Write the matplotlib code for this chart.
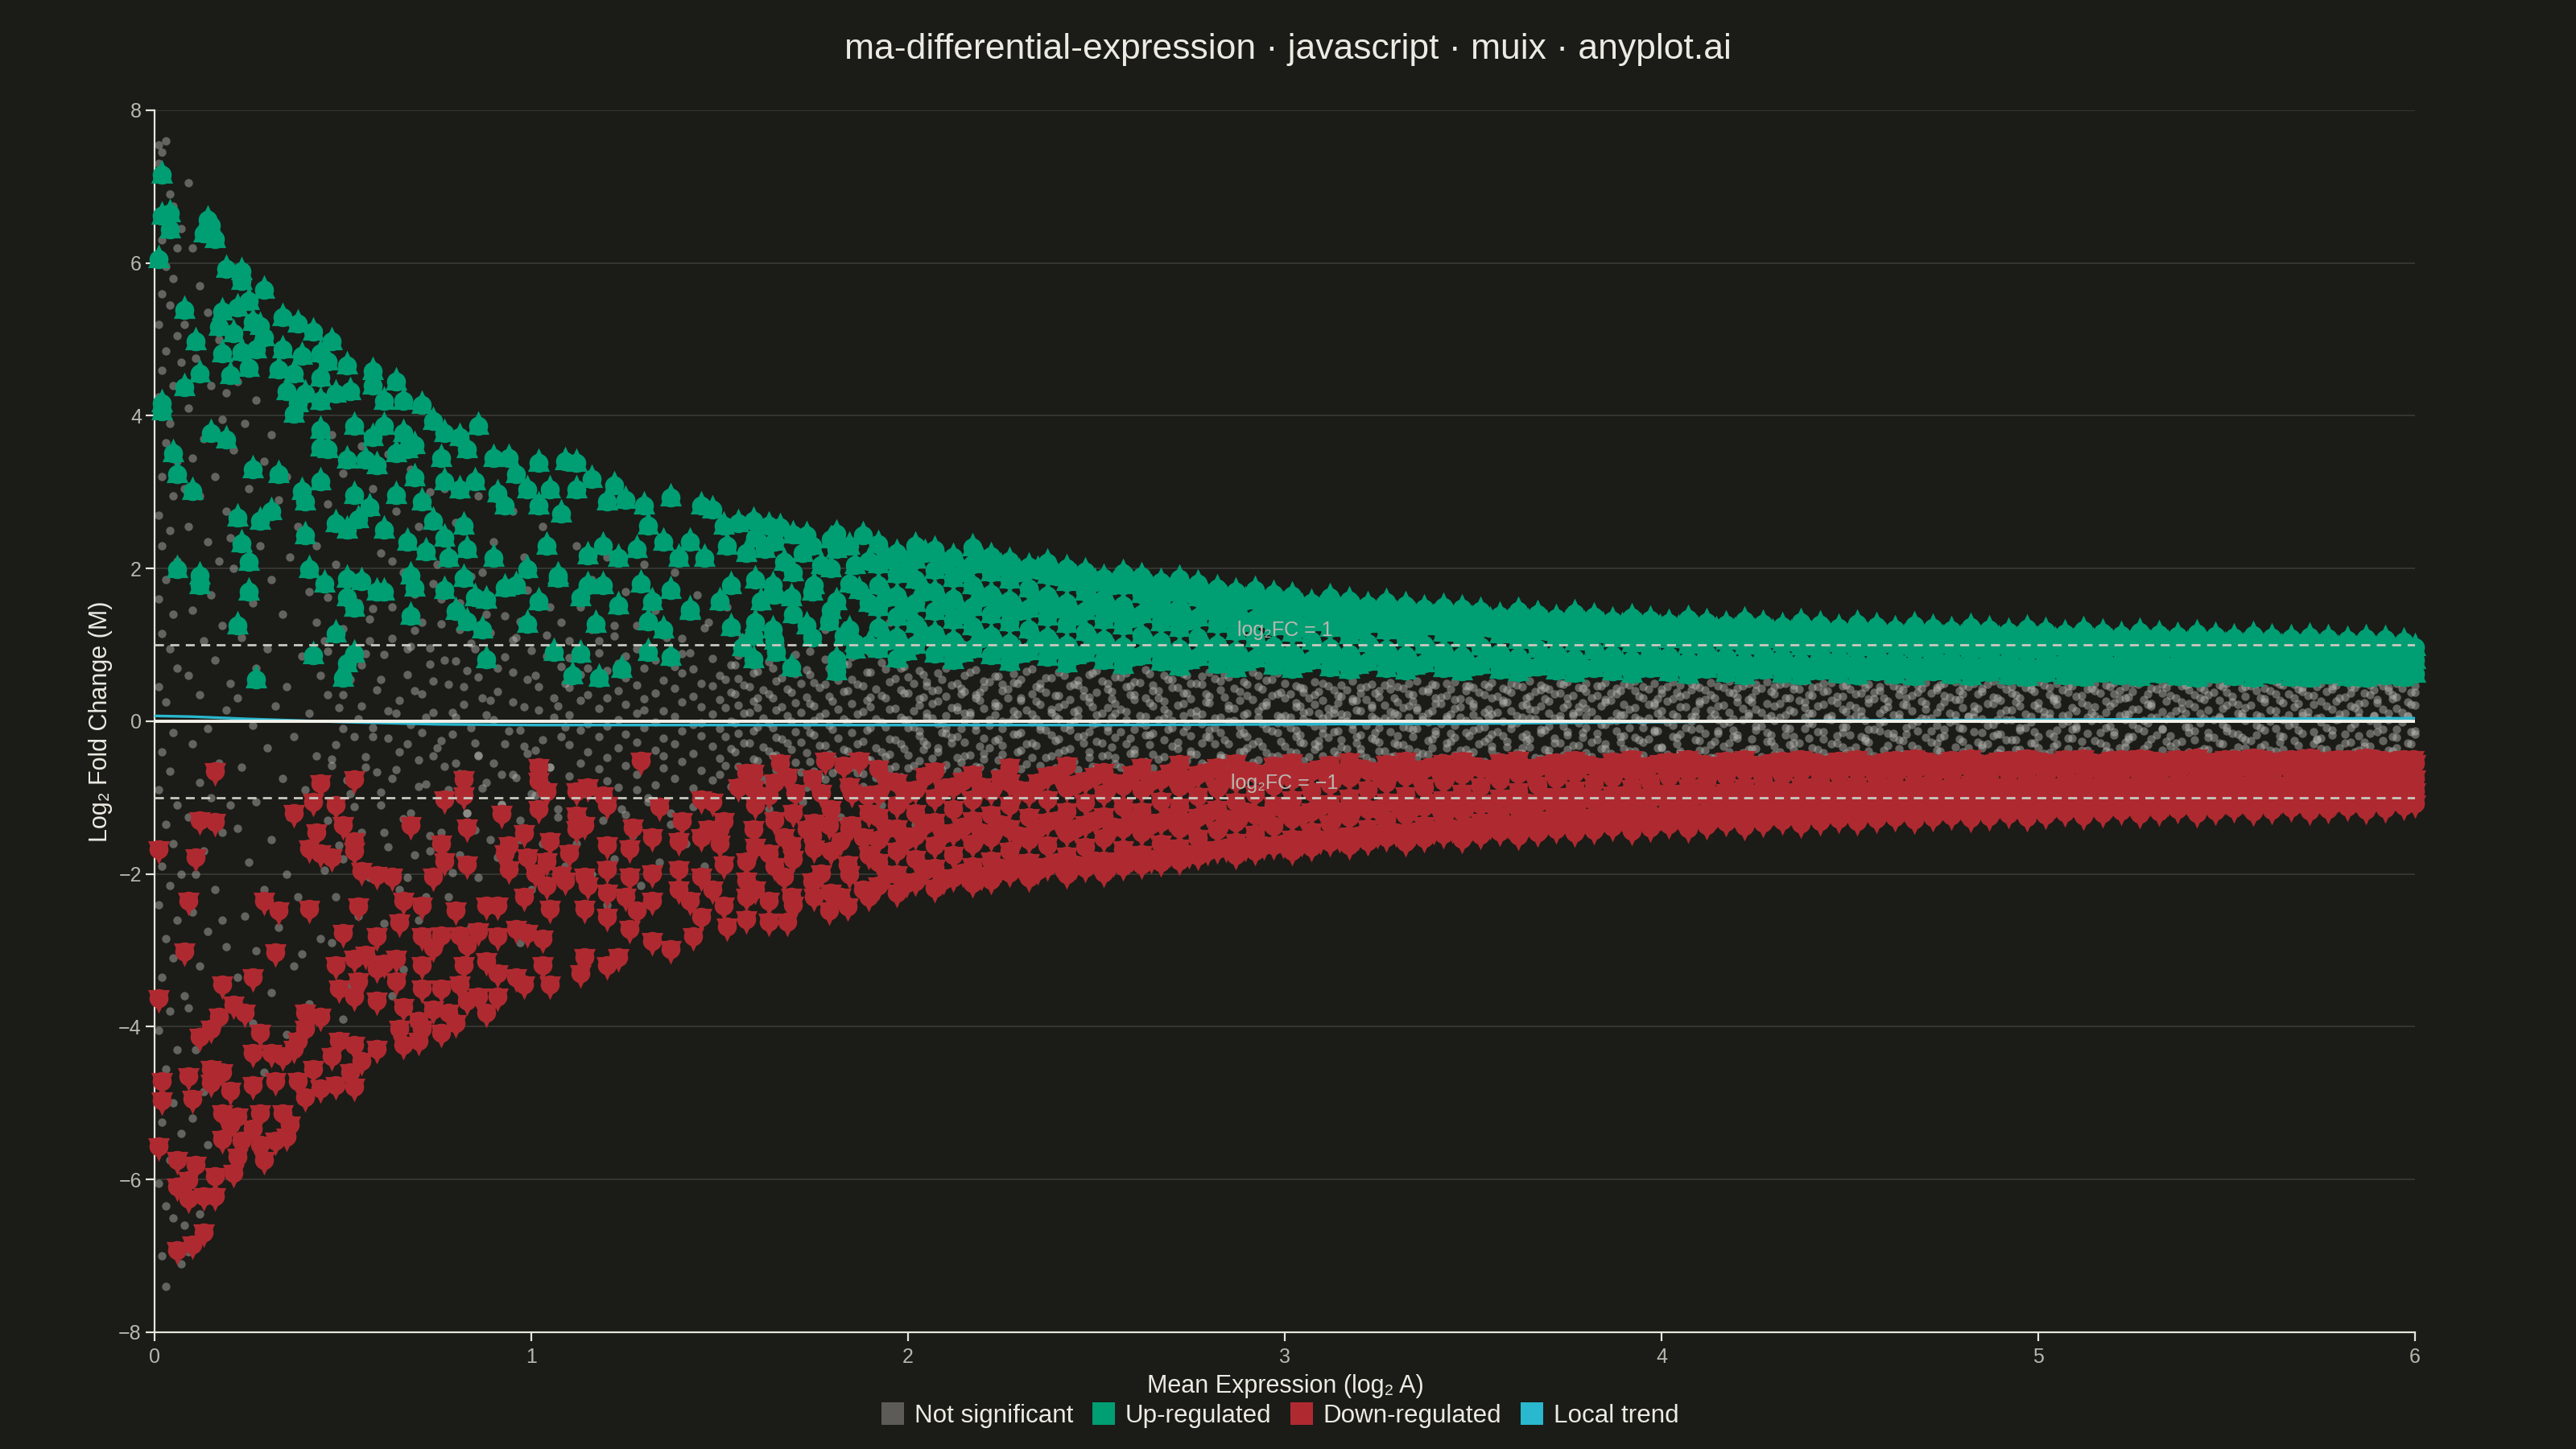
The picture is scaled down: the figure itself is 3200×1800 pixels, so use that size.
import numpy as np
import matplotlib.pyplot as plt
from matplotlib.path import Path
from matplotlib.lines import Line2D

plt.rcParams['font.family'] = ['Liberation Sans', 'DejaVu Sans']

title = "ma-differential-expression · javascript · muix · anyplot.ai"
legend_labels = ["Not significant", "Up-regulated", "Down-regulated", "Local trend"]

# up-regulated genes, sparse part (A, M pairs)
up_pts = [
    0.02,7.16, 0.02,6.62, 0.04,6.65, 0.04,6.44, 0.01,6.05, 0.14,6.57, 0.15,6.49, 0.13,6.39, 0.16,6.31, 0.19,5.92,
    0.23,5.89, 0.23,5.76, 0.08,5.39, 0.29,5.65, 0.25,5.50, 0.22,5.42, 0.18,5.36, 0.26,5.23, 0.28,5.18, 0.29,5.03,
    0.17,5.16, 0.21,5.08, 0.11,4.97, 0.18,4.82, 0.23,4.84, 0.27,4.87, 0.25,4.63, 0.20,4.53, 0.12,4.55, 0.34,5.29,
    0.38,5.21, 0.42,5.10, 0.47,4.97, 0.34,4.87, 0.39,4.79, 0.33,4.61, 0.37,4.55, 0.44,4.82, 0.46,4.71, 0.44,4.50,
    0.51,4.66, 0.08,4.37, 0.02,4.16, 0.02,4.06, 0.35,4.32, 0.40,4.29, 0.38,4.16, 0.44,4.19, 0.37,4.03, 0.48,4.29,
    0.52,4.32, 0.58,4.58, 0.64,4.45, 0.66,4.19, 0.71,4.14, 0.58,4.40, 0.61,4.19, 0.15,3.77, 0.19,3.69, 0.05,3.51,
    0.06,3.24, 0.10,3.01, 0.44,3.82, 0.44,3.58, 0.46,3.56, 0.51,3.43, 0.56,3.43, 0.59,3.35, 0.53,3.87, 0.58,3.72,
    0.61,3.87, 0.66,3.77, 0.67,3.56, 0.74,3.93, 0.77,3.77, 0.81,3.72, 0.86,3.87, 0.83,3.56, 0.76,3.45, 0.64,3.51,
    0.69,3.61, 0.26,3.30, 0.33,3.24, 0.39,3.01, 0.44,3.14, 0.40,2.88, 0.53,2.96, 0.57,2.80, 0.64,2.96, 0.69,3.19,
    0.71,2.88, 0.74,2.62, 0.77,3.14, 0.81,3.03, 0.85,3.14, 0.90,3.45, 0.94,3.45, 1.02,3.38, 1.09,3.40, 1.12,3.38,
    1.16,3.17, 1.22,3.09, 0.96,3.24, 0.99,3.03, 0.91,2.98, 0.93,2.82, 1.02,2.82, 1.05,3.03, 1.08,2.72, 1.12,3.03,
    1.20,2.88, 1.25,2.90, 1.30,2.82, 1.37,2.93, 1.45,2.82, 1.48,2.77, 1.51,2.56, 1.55,2.59, 1.59,2.62, 1.63,2.56,
    1.66,2.54, 1.73,2.43, 1.81,2.46, 1.88,2.43, 0.22,2.67, 0.28,2.62, 0.31,2.75, 0.40,2.43, 0.48,2.59, 0.51,2.51,
    0.54,2.64, 0.61,2.51, 0.67,2.35, 0.72,2.22, 0.77,2.40, 0.82,2.56, 0.83,2.25, 0.78,2.14, 0.90,2.14, 0.99,1.99,
    1.04,2.30, 1.07,1.91, 1.15,2.17, 1.19,2.30, 1.23,2.14, 1.28,2.25, 1.31,2.56, 1.35,2.35, 1.39,2.14, 1.42,2.35,
    1.46,2.14, 1.52,2.30, 1.57,2.20, 1.62,2.25, 1.67,2.09, 1.72,2.20, 1.77,2.04, 1.81,2.25, 1.86,2.04, 0.23,2.33,
    0.25,2.09, 0.06,1.99, 0.12,1.91, 0.12,1.78, 0.25,1.70, 0.41,1.99, 0.45,1.80, 0.51,1.86, 0.55,1.83, 0.59,1.70,
    0.61,1.70, 0.68,1.91, 0.69,1.75, 0.77,1.72, 0.82,1.88, 0.85,1.62, 0.88,1.59, 0.93,1.75, 0.96,1.78, 1.02,1.57,
    1.07,1.88, 1.13,1.62, 1.15,1.78, 1.19,1.78, 1.23,1.52, 1.29,1.80, 1.32,1.57, 1.37,1.72, 1.42,1.46, 1.50,1.57,
    1.53,1.78, 1.61,1.57, 1.64,1.78, 1.69,1.62, 1.75,1.78, 1.81,1.57, 1.87,1.72, 0.22,1.25, 0.51,1.62, 0.53,1.49,
    0.68,1.38, 0.80,1.44, 0.83,1.31, 0.87,1.20, 0.99,1.28, 1.17,1.28, 1.31,1.31, 1.35,1.20, 1.42,1.44, 1.53,1.23,
    1.59,1.12, 1.64,1.20, 1.73,1.25, 1.79,1.31, 1.83,1.12, 1.86,1.02, 0.48,1.15, 0.42,0.86, 0.53,0.89, 0.51,0.76,
    0.50,0.57, 0.27,0.55, 0.88,0.81, 1.06,0.91, 1.13,0.89, 1.11,0.60, 1.18,0.57, 1.24,0.68, 1.31,0.91, 1.37,0.84,
    1.56,0.97, 1.59,0.81, 1.65,0.91, 1.69,0.71, 1.81,0.81, 1.81,0.65, 1.86,0.94,
]

# up-regulated genes, dense part: (A, [M, ...])
up_band = [
    (1.92, [0.95, 1.22, 1.5, 1.78, 2.05, 2.32]), (1.97, [0.82, 1.1, 1.37, 1.64, 1.93, 2.2]),
    (2.02, [1.0, 1.28, 1.55, 1.85, 2.12, 2.3]), (2.07, [0.88, 1.15, 1.44, 1.7, 1.98, 2.24]),
    (2.12, [0.8, 1.05, 1.33, 1.6, 1.88, 2.15]), (2.17, [0.95, 1.24, 1.5, 1.78, 2.06, 2.28]),
    (2.22, [0.86, 1.12, 1.4, 1.67, 1.95, 2.16]), (2.27, [0.78, 1.02, 1.3, 1.58, 1.85, 2.1]),
    (2.32, [0.92, 1.2, 1.47, 1.74, 2.02]), (2.37, [0.84, 1.1, 1.37, 1.64, 1.92, 2.08]),
    (2.42, [0.76, 1.0, 1.28, 1.55, 1.82, 2.0]), (2.47, [0.9, 1.17, 1.44, 1.7, 1.96]),
    (2.52, [0.8, 1.06, 1.33, 1.6, 1.88]), (2.57, [0.74, 0.98, 1.25, 1.52, 1.78, 1.94]),
    (2.62, [0.86, 1.13, 1.4, 1.66, 1.9]), (2.67, [0.78, 1.04, 1.3, 1.57, 1.82]),
    (2.72, [0.72, 0.95, 1.22, 1.49, 1.75, 1.86]), (2.77, [0.84, 1.1, 1.36, 1.62, 1.8]),
    (2.82, [0.75, 1.0, 1.27, 1.53, 1.74]), (2.87, [0.7, 0.92, 1.18, 1.45, 1.7]),
    (2.92, [0.82, 1.08, 1.34, 1.6, 1.72]), (2.97, [0.73, 0.98, 1.24, 1.5, 1.66]),
    (3.02, [0.68, 0.9, 1.16, 1.42, 1.64]), (3.07, [0.8, 1.05, 1.3, 1.55]),
    (3.12, [0.71, 0.96, 1.22, 1.48, 1.62]), (3.17, [0.67, 0.88, 1.13, 1.39, 1.58]),
    (3.22, [0.78, 1.02, 1.27, 1.52]), (3.27, [0.7, 0.94, 1.19, 1.44, 1.56]),
    (3.32, [0.66, 0.86, 1.1, 1.35, 1.52]), (3.37, [0.76, 1.0, 1.24, 1.48]),
    (3.42, [0.69, 0.92, 1.16, 1.4, 1.5]), (3.47, [0.65, 0.85, 1.08, 1.32, 1.47]),
    (3.52, [0.74, 0.98, 1.22, 1.44]), (3.57, [0.67, 0.9, 1.14, 1.38]),
    (3.62, [0.64, 0.84, 1.06, 1.3, 1.44]), (3.67, [0.72, 0.95, 1.19, 1.4]),
    (3.72, [0.66, 0.88, 1.11, 1.35]), (3.77, [0.63, 0.82, 1.04, 1.27, 1.41]),
    (3.82, [0.7, 0.93, 1.16, 1.37]), (3.87, [0.65, 0.86, 1.09, 1.32]),
    (3.92, [0.62, 0.8, 1.02, 1.25, 1.36]), (3.97, [0.69, 0.91, 1.13, 1.33]),
    (4.02, [0.64, 0.85, 1.07, 1.29]), (4.07, [0.61, 0.79, 1.0, 1.22, 1.34]),
    (4.12, [0.68, 0.89, 1.11, 1.3]), (4.17, [0.63, 0.84, 1.05, 1.26]),
    (4.22, [0.6, 0.78, 0.99, 1.2, 1.32]), (4.27, [0.67, 0.88, 1.09, 1.28]),
    (4.32, [0.62, 0.83, 1.03, 1.24]), (4.37, [0.6, 0.77, 0.98, 1.18, 1.3]),
    (4.42, [0.66, 0.87, 1.07, 1.26]), (4.47, [0.62, 0.82, 1.02, 1.22]),
    (4.52, [0.6, 0.77, 0.97, 1.17, 1.27]), (4.57, [0.65, 0.86, 1.06, 1.24]),
    (4.62, [0.61, 0.81, 1.01, 1.2]), (4.67, [0.59, 0.76, 0.96, 1.16, 1.25]),
    (4.72, [0.65, 0.85, 1.05, 1.22]), (4.77, [0.61, 0.8, 1.0, 1.19]),
    (4.82, [0.59, 0.76, 0.95, 1.15, 1.23]), (4.87, [0.64, 0.84, 1.04, 1.2]),
    (4.92, [0.6, 0.8, 0.99, 1.17]), (4.97, [0.58, 0.75, 0.94, 1.13, 1.21]),
    (5.02, [0.63, 0.83, 1.02, 1.18]), (5.07, [0.6, 0.79, 0.98, 1.15]),
    (5.12, [0.58, 0.75, 0.93, 1.11, 1.19]), (5.17, [0.63, 0.82, 1.01, 1.16]),
    (5.22, [0.6, 0.78, 0.97, 1.13]), (5.27, [0.58, 0.74, 0.92, 1.1, 1.17]),
    (5.32, [0.62, 0.81, 1.0, 1.14]), (5.37, [0.59, 0.77, 0.96, 1.12]),
    (5.42, [0.57, 0.73, 0.91, 1.08, 1.15]), (5.47, [0.62, 0.8, 0.98, 1.12]),
    (5.52, [0.59, 0.77, 0.95, 1.1]), (5.57, [0.57, 0.73, 0.9, 1.06, 1.13]),
    (5.62, [0.61, 0.79, 0.97, 1.1]), (5.67, [0.58, 0.76, 0.93, 1.08]),
    (5.72, [0.57, 0.72, 0.89, 1.05, 1.11]), (5.77, [0.61, 0.79, 0.96, 1.09]),
    (5.82, [0.58, 0.75, 0.92, 1.06]), (5.87, [0.57, 0.72, 0.88, 1.03, 1.09]),
    (5.92, [0.6, 0.78, 0.95, 1.07]), (5.97, [0.58, 0.74, 0.9, 1.04]),
    (6.00, [0.62, 0.8, 0.97]),
]

# second, staggered layer of the up-regulated band
up_band2 = [
    (1.595, [1.3, 1.85, 2.4]), (1.645, [1.05, 1.65, 2.35]), (1.695, [1.4, 1.95, 2.45]), (1.745, [1.1, 1.7, 2.3]),
    (1.795, [1.45, 2.0, 2.38]), (1.845, [1.2, 1.8, 2.3]), (1.895, [1.0, 1.55, 2.1]),
    (1.945, [1.05, 1.62, 2.12]), (1.995, [0.92, 1.45, 2.0]), (2.045, [1.12, 1.7, 2.2]), (2.095, [0.98, 1.52, 2.05]),
    (2.145, [0.9, 1.4, 1.95]), (2.195, [1.08, 1.62, 2.12]), (2.245, [0.95, 1.5, 2.02]), (2.295, [0.88, 1.44, 1.95]),
    (2.345, [1.02, 1.55, 1.98]), (2.395, [0.94, 1.48, 1.9]), (2.445, [0.86, 1.38, 1.88]), (2.495, [1.0, 1.52, 1.82]),
    (2.545, [0.9, 1.42, 1.78]), (2.595, [0.84, 1.35, 1.8]), (2.645, [0.96, 1.48, 1.74]), (2.695, [0.85, 1.38, 1.7]),
    (2.745, [0.8, 1.32, 1.68]), (2.795, [0.92, 1.45, 1.62]), (2.845, [0.83, 1.35, 1.6]), (2.895, [0.78, 1.3, 1.58]),
    (2.945, [0.9, 1.4, 1.55]), (2.995, [0.8, 1.3, 1.52]), (3.045, [0.76, 1.22, 1.5]), (3.095, [0.88, 1.35, 1.46]),
    (3.145, [0.79, 1.26, 1.45]), (3.195, [0.74, 1.2, 1.44]), (3.245, [0.86, 1.3, 1.42]), (3.295, [0.77, 1.22, 1.4]),
    (3.345, [0.73, 1.16, 1.38]), (3.395, [0.84, 1.26, 1.36]), (3.445, [0.76, 1.18, 1.35]), (3.495, [0.72, 1.12, 1.34]),
    (3.545, [0.82, 1.22, 1.32]), (3.595, [0.75, 1.15, 1.3]), (3.645, [0.71, 1.1, 1.3]), (3.695, [0.8, 1.18, 1.28]),
    (3.745, [0.74, 1.12, 1.27]), (3.795, [0.7, 1.07, 1.26]), (3.845, [0.78, 1.15, 1.25]), (3.895, [0.73, 1.1, 1.24]),
    (3.945, [0.69, 1.05, 1.23]), (3.995, [0.77, 1.12, 1.22]), (4.045, [0.72, 1.08, 1.21]), (4.095, [0.68, 1.04, 1.2]),
    (4.145, [0.75, 1.1, 1.19]), (4.195, [0.71, 1.06, 1.18]), (4.245, [0.67, 1.02, 1.17]), (4.295, [0.74, 1.08, 1.16]),
    (4.345, [0.7, 1.04, 1.15]), (4.395, [0.66, 1.0, 1.14]), (4.445, [0.73, 1.06, 1.13]), (4.495, [0.69, 1.02, 1.12]),
    (4.545, [0.66, 0.99, 1.12]), (4.595, [0.72, 1.05, 1.11]), (4.645, [0.68, 1.0, 1.1]), (4.695, [0.65, 0.97, 1.1]),
    (4.745, [0.71, 1.03, 1.09]), (4.795, [0.67, 0.99, 1.08]), (4.845, [0.64, 0.96, 1.08]), (4.895, [0.7, 1.01, 1.07]),
    (4.945, [0.66, 0.97, 1.06]), (4.995, [0.64, 0.95, 1.06]), (5.045, [0.69, 1.0, 1.05]), (5.095, [0.66, 0.96, 1.04]),
    (5.145, [0.63, 0.93, 1.04]), (5.195, [0.68, 0.98, 1.03]), (5.245, [0.65, 0.95, 1.02]), (5.295, [0.63, 0.92, 1.02]),
    (5.345, [0.68, 0.97, 1.01]), (5.395, [0.65, 0.94, 1.0]), (5.445, [0.62, 0.91, 1.0]), (5.495, [0.67, 0.95, 0.99]),
    (5.545, [0.64, 0.92, 0.98]), (5.595, [0.62, 0.9, 0.98]), (5.645, [0.66, 0.94, 0.97]), (5.695, [0.64, 0.91, 0.96]),
    (5.745, [0.61, 0.89, 0.96]), (5.795, [0.66, 0.93, 0.95]), (5.845, [0.63, 0.9, 0.94]), (5.895, [0.61, 0.88, 0.94]),
    (5.945, [0.65, 0.92, 0.93]), (5.995, [0.63, 0.89, 0.92]),
]

# down-regulated genes, sparse part (A, M pairs)
down_pts = [
    0.16,-0.65, 0.44,-0.81, 0.53,-0.76, 0.37,-1.20, 0.42,-1.05, 0.48,-1.10, 0.12,-1.30, 0.16,-1.32, 0.01,-1.68, 0.11,-1.78,
    0.43,-1.46, 0.41,-1.67, 0.44,-1.73, 0.47,-1.78, 0.50,-1.36, 0.53,-1.57, 0.53,-1.70, 0.68,-1.36, 0.76,-1.60, 0.77,-1.83,
    0.83,-1.39, 0.83,-1.88, 0.55,-1.96, 0.59,-2.01, 0.63,-2.04, 0.74,-2.04, 0.82,-0.76, 0.82,-0.97, 0.77,-1.02, 0.92,-1.21,
    1.02,-0.60, 1.02,-0.78, 1.04,-0.92, 1.02,-1.15, 1.12,-0.92, 1.15,-0.86, 1.19,-0.97, 1.20,-1.10, 1.12,-1.23, 1.14,-1.36,
    1.12,-1.41, 1.29,-0.52, 1.27,-1.39, 1.34,-1.12, 1.40,-1.31, 1.45,-1.02, 1.48,-1.05, 1.47,-1.41, 1.50,-1.41, 1.50,-1.60,
    1.57,-0.68, 1.59,-0.68, 1.66,-0.55, 1.68,-0.73, 1.55,-0.86, 1.59,-0.89, 1.63,-0.97, 1.70,-0.94, 1.77,-0.94, 1.78,-0.52,
    1.83,-0.58, 1.87,-0.52, 1.85,-0.94, 1.89,-0.97, 1.75,-1.33, 0.09,-2.35, 0.29,-2.35, 0.33,-2.48, 0.41,-2.46, 0.54,-2.43,
    0.66,-2.35, 0.65,-2.64, 0.71,-2.41, 0.80,-2.48, 0.59,-2.82, 0.50,-2.77, 0.32,-3.03, 0.08,-3.01, 0.71,-2.82, 0.76,-2.80,
    0.81,-2.80, 0.86,-2.75, 0.91,-2.82, 0.96,-2.72, 0.99,-2.77, 1.03,-2.85, 0.83,-2.93, 0.74,-2.96, 0.88,-2.41, 0.91,-2.41,
    0.98,-2.30, 1.04,-2.15, 1.09,-2.09, 1.15,-2.15, 1.20,-2.25, 1.25,-2.30, 1.05,-2.46, 1.14,-2.46, 1.20,-2.56, 1.28,-2.48,
    1.32,-2.35, 1.39,-2.20, 1.42,-2.35, 1.45,-2.56, 1.51,-2.41, 1.57,-2.30, 1.63,-2.35, 1.69,-2.30, 1.75,-2.30, 1.82,-2.30,
    1.88,-2.20, 0.93,-1.73, 0.99,-1.78, 1.04,-1.83, 0.94,-1.94, 1.01,-1.99, 1.08,-2.01, 1.14,-2.04, 1.20,-1.94, 1.26,-2.04,
    1.32,-1.99, 1.39,-1.94, 1.45,-2.04, 1.51,-1.88, 1.57,-1.83, 1.63,-1.73, 1.69,-1.62, 1.75,-1.67, 1.82,-1.57, 1.88,-1.52,
    1.84,-1.88, 1.77,-1.99, 1.67,-2.04, 1.57,-2.09, 1.48,-2.20, 1.32,-1.52, 1.39,-1.57, 1.26,-1.67, 1.20,-1.62, 1.05,-1.57,
    1.10,-1.73, 1.45,-1.52, 1.51,-1.31, 1.59,-1.41, 1.67,-1.52, 1.73,-1.41, 1.79,-1.36, 1.85,-1.36, 0.98,-1.47, 0.94,-1.62,
    1.26,-2.72, 1.32,-2.88, 1.37,-2.98, 1.43,-2.82, 1.52,-2.69, 1.57,-2.59, 1.63,-2.62, 1.68,-2.62, 1.79,-2.48, 1.84,-2.43,
    0.48,-3.19, 0.53,-3.11, 0.56,-3.06, 0.61,-3.17, 0.64,-3.11, 0.71,-3.19, 0.82,-3.19, 0.88,-3.14, 0.91,-3.30, 0.96,-3.35,
    0.98,-3.45, 1.05,-3.45, 1.13,-3.30, 1.20,-3.19, 1.23,-3.09, 1.03,-3.19, 1.14,-3.09, 0.49,-3.50, 0.53,-3.61, 0.54,-3.40,
    0.59,-3.24, 0.64,-3.40, 0.59,-3.66, 0.66,-3.74, 0.71,-3.50, 0.76,-3.50, 0.81,-3.45, 0.86,-3.61, 0.91,-3.61, 0.74,-3.77,
    0.78,-3.82, 0.83,-3.66, 0.88,-3.82, 0.70,-3.92, 0.65,-4.03, 0.71,-4.03, 0.76,-4.08, 0.80,-3.95, 0.66,-4.24, 0.70,-4.18,
    0.59,-4.29, 0.55,-4.45, 0.53,-4.24, 0.49,-4.18, 0.40,-3.82, 0.44,-3.87, 0.40,-4.03, 0.38,-4.18, 0.34,-4.39, 0.37,-4.29,
    0.31,-4.34, 0.42,-4.55, 0.47,-4.39, 0.52,-4.60, 0.48,-4.76, 0.53,-4.79, 0.44,-4.81, 0.38,-4.71, 0.40,-4.92, 0.34,-5.13,
    0.36,-5.28, 0.28,-5.13, 0.26,-5.33, 0.22,-5.18, 0.18,-5.13, 0.20,-5.28, 0.18,-5.47, 0.23,-5.49, 0.28,-5.54, 0.32,-5.49,
    0.35,-5.44, 0.29,-5.75, 0.22,-5.70, 0.21,-5.91, 0.16,-5.96, 0.11,-5.81, 0.06,-5.75, 0.01,-5.57, 0.06,-6.09, 0.09,-6.01,
    0.13,-6.22, 0.16,-6.22, 0.09,-6.25, 0.13,-6.69, 0.10,-6.85, 0.06,-6.93, 0.26,-4.34, 0.26,-4.76, 0.32,-4.71, 0.12,-4.13,
    0.15,-4.03, 0.17,-3.87, 0.21,-3.71, 0.24,-3.82, 0.28,-4.08, 0.18,-3.45, 0.26,-3.35, 0.02,-4.71, 0.09,-4.65, 0.15,-4.55,
    0.18,-4.60, 0.15,-4.73, 0.20,-4.84, 0.02,-4.97, 0.10,-4.94, 0.01,-3.63,
]

# down-regulated genes, dense part: (A, [M, ...])
down_band = [
    (1.92, [-0.62, -0.95, -1.25, -1.55, -1.85, -2.15]), (1.97, [-0.8, -1.1, -1.4, -1.7, -2.0, -2.25]),
    (2.02, [-0.9, -1.2, -1.5, -1.8, -2.1]), (2.07, [-0.65, -1.0, -1.32, -1.62, -1.92, -2.18]),
    (2.12, [-0.85, -1.15, -1.45, -1.75, -2.05]), (2.17, [-0.7, -1.02, -1.3, -1.6, -1.9, -2.12]),
    (2.22, [-0.92, -1.22, -1.52, -1.82, -2.08]), (2.27, [-0.6, -0.8, -1.1, -1.4, -1.7, -1.98]),
    (2.32, [-0.95, -1.25, -1.55, -1.85, -2.05]), (2.37, [-0.72, -1.02, -1.32, -1.62, -1.9]),
    (2.42, [-0.58, -0.88, -1.18, -1.47, -1.76, -2.0]), (2.47, [-0.78, -1.06, -1.35, -1.64, -1.92]),
    (2.52, [-0.66, -0.95, -1.24, -1.53, -1.82, -1.98]), (2.57, [-0.84, -1.12, -1.4, -1.68, -1.9]),
    (2.62, [-0.6, -0.9, -1.18, -1.46, -1.74, -1.88]), (2.67, [-0.76, -1.04, -1.32, -1.6, -1.84]),
    (2.72, [-0.56, -0.85, -1.12, -1.4, -1.66, -1.82]), (2.77, [-0.7, -0.98, -1.26, -1.53, -1.76]),
    (2.82, [-0.6, -0.88, -1.15, -1.42, -1.68]), (2.87, [-0.55, -0.78, -1.05, -1.32, -1.58, -1.75]),
    (2.92, [-0.68, -0.95, -1.22, -1.48, -1.7]), (2.97, [-0.58, -0.84, -1.1, -1.37, -1.62]),
    (3.02, [-0.54, -0.76, -1.02, -1.28, -1.54, -1.7]), (3.07, [-0.65, -0.92, -1.18, -1.44, -1.64]),
    (3.12, [-0.57, -0.82, -1.08, -1.34, -1.58]), (3.17, [-0.53, -0.74, -1.0, -1.25, -1.5, -1.62]),
    (3.22, [-0.64, -0.9, -1.15, -1.4, -1.57]), (3.27, [-0.56, -0.8, -1.05, -1.3, -1.52]),
    (3.32, [-0.52, -0.72, -0.97, -1.22, -1.46, -1.58]), (3.37, [-0.62, -0.87, -1.12, -1.36, -1.53]),
    (3.42, [-0.55, -0.78, -1.02, -1.27, -1.48]), (3.47, [-0.52, -0.7, -0.94, -1.18, -1.42, -1.54]),
    (3.52, [-0.61, -0.85, -1.09, -1.32, -1.49]), (3.57, [-0.54, -0.77, -1.0, -1.24, -1.44]),
    (3.62, [-0.51, -0.69, -0.92, -1.15, -1.38, -1.5]), (3.67, [-0.6, -0.83, -1.06, -1.29, -1.45]),
    (3.72, [-0.54, -0.75, -0.98, -1.21, -1.41]), (3.77, [-0.51, -0.68, -0.9, -1.13, -1.35, -1.46]),
    (3.82, [-0.59, -0.81, -1.04, -1.26, -1.42]), (3.87, [-0.53, -0.74, -0.96, -1.18, -1.38]),
    (3.92, [-0.5, -0.67, -0.88, -1.1, -1.32, -1.43]), (3.97, [-0.58, -0.8, -1.02, -1.23, -1.39]),
    (4.02, [-0.53, -0.73, -0.94, -1.16, -1.35]), (4.07, [-0.5, -0.66, -0.87, -1.08, -1.29, -1.4]),
    (4.12, [-0.57, -0.78, -1.0, -1.2, -1.36]), (4.17, [-0.52, -0.72, -0.93, -1.14, -1.32]),
    (4.22, [-0.5, -0.65, -0.86, -1.06, -1.26, -1.37]), (4.27, [-0.57, -0.77, -0.98, -1.18, -1.33]),
    (4.32, [-0.52, -0.71, -0.92, -1.12, -1.3]), (4.37, [-0.5, -0.65, -0.85, -1.05, -1.24, -1.34]),
    (4.42, [-0.56, -0.76, -0.97, -1.16, -1.31]), (4.47, [-0.52, -0.7, -0.9, -1.1, -1.28]),
    (4.52, [-0.5, -0.64, -0.84, -1.03, -1.22, -1.31]), (4.57, [-0.56, -0.75, -0.95, -1.14, -1.28]),
    (4.62, [-0.51, -0.7, -0.89, -1.08, -1.25]), (4.67, [-0.49, -0.64, -0.83, -1.02, -1.2, -1.29]),
    (4.72, [-0.55, -0.74, -0.94, -1.12, -1.26]), (4.77, [-0.51, -0.69, -0.88, -1.06, -1.23]),
    (4.82, [-0.49, -0.63, -0.82, -1.0, -1.18, -1.27]), (4.87, [-0.55, -0.73, -0.92, -1.1, -1.24]),
    (4.92, [-0.51, -0.68, -0.87, -1.05, -1.21]), (4.97, [-0.49, -0.63, -0.81, -0.99, -1.16, -1.25]),
    (5.02, [-0.54, -0.72, -0.91, -1.08, -1.22]), (5.07, [-0.5, -0.67, -0.86, -1.03, -1.19]),
    (5.12, [-0.49, -0.62, -0.8, -0.98, -1.15, -1.23]), (5.17, [-0.54, -0.72, -0.9, -1.07, -1.2]),
    (5.22, [-0.5, -0.67, -0.85, -1.02, -1.17]), (5.27, [-0.49, -0.62, -0.79, -0.97, -1.13, -1.21]),
    (5.32, [-0.53, -0.71, -0.89, -1.06, -1.18]), (5.37, [-0.5, -0.66, -0.84, -1.01, -1.15]),
    (5.42, [-0.48, -0.61, -0.79, -0.96, -1.12, -1.2]), (5.47, [-0.53, -0.7, -0.88, -1.05, -1.17]),
    (5.52, [-0.5, -0.66, -0.83, -1.0, -1.14]), (5.57, [-0.48, -0.61, -0.78, -0.95, -1.11, -1.18]),
    (5.62, [-0.53, -0.7, -0.87, -1.04, -1.16]), (5.67, [-0.5, -0.65, -0.83, -0.99, -1.13]),
    (5.72, [-0.48, -0.61, -0.78, -0.94, -1.1, -1.17]), (5.77, [-0.52, -0.69, -0.86, -1.03, -1.15]),
    (5.82, [-0.5, -0.65, -0.82, -0.98, -1.12]), (5.87, [-0.48, -0.6, -0.77, -0.94, -1.09, -1.16]),
    (5.92, [-0.52, -0.69, -0.86, -1.02, -1.14]), (5.97, [-0.5, -0.65, -0.82, -0.98, -1.11]),
    (6.00, [-0.55, -0.75, -0.92, -1.08]),
]

# second, staggered layer of the down-regulated band
down_band2 = [
    (1.595, [-1.1, -1.65, -2.2]), (1.645, [-0.8, -1.3, -1.9]), (1.695, [-1.2, -1.8, -2.4]), (1.745, [-0.75, -1.5, -2.1]),
    (1.795, [-1.15, -1.7, -2.25]), (1.845, [-0.85, -1.4, -2.0]), (1.895, [-1.2, -1.75, -2.3]),
    (1.945, [-0.78, -1.4, -2.0]), (1.995, [-0.95, -1.55, -2.12]), (2.045, [-0.72, -1.35, -1.95]), (2.095, [-0.88, -1.48, -2.08]),
    (2.145, [-0.78, -1.38, -1.98]), (2.195, [-0.85, -1.45, -2.02]), (2.245, [-0.75, -1.35, -1.92]), (2.295, [-0.9, -1.5, -1.88]),
    (2.345, [-0.8, -1.4, -1.95]), (2.395, [-0.7, -1.3, -1.85]), (2.445, [-0.82, -1.4, -1.88]), (2.495, [-0.72, -1.3, -1.82]),
    (2.545, [-0.8, -1.38, -1.85]), (2.595, [-0.7, -1.28, -1.78]), (2.645, [-0.78, -1.35, -1.8]), (2.695, [-0.68, -1.25, -1.72]),
    (2.745, [-0.76, -1.32, -1.74]), (2.795, [-0.66, -1.2, -1.7]), (2.845, [-0.74, -1.28, -1.66]), (2.895, [-0.64, -1.18, -1.64]),
    (2.945, [-0.72, -1.25, -1.62]), (2.995, [-0.63, -1.15, -1.6]), (3.045, [-0.7, -1.22, -1.58]), (3.095, [-0.62, -1.12, -1.55]),
    (3.145, [-0.68, -1.18, -1.53]), (3.195, [-0.61, -1.1, -1.5]), (3.245, [-0.67, -1.15, -1.48]), (3.295, [-0.6, -1.08, -1.46]),
    (3.345, [-0.66, -1.12, -1.44]), (3.395, [-0.59, -1.06, -1.42]), (3.445, [-0.64, -1.1, -1.4]), (3.495, [-0.58, -1.04, -1.38]),
    (3.545, [-0.63, -1.08, -1.36]), (3.595, [-0.57, -1.02, -1.35]), (3.645, [-0.62, -1.06, -1.33]), (3.695, [-0.57, -1.0, -1.32]),
    (3.745, [-0.61, -1.04, -1.3]), (3.795, [-0.56, -0.98, -1.29]), (3.845, [-0.6, -1.02, -1.28]), (3.895, [-0.56, -0.97, -1.26]),
    (3.945, [-0.59, -1.0, -1.25]), (3.995, [-0.55, -0.95, -1.24]), (4.045, [-0.58, -0.98, -1.23]), (4.095, [-0.55, -0.94, -1.22]),
    (4.145, [-0.58, -0.97, -1.21]), (4.195, [-0.54, -0.92, -1.2]), (4.245, [-0.57, -0.95, -1.19]), (4.295, [-0.54, -0.91, -1.18]),
    (4.345, [-0.57, -0.94, -1.17]), (4.395, [-0.53, -0.9, -1.16]), (4.445, [-0.56, -0.93, -1.16]), (4.495, [-0.53, -0.89, -1.15]),
    (4.545, [-0.56, -0.92, -1.14]), (4.595, [-0.53, -0.88, -1.13]), (4.645, [-0.55, -0.91, -1.13]), (4.695, [-0.52, -0.87, -1.12]),
    (4.745, [-0.55, -0.9, -1.11]), (4.795, [-0.52, -0.86, -1.11]), (4.845, [-0.55, -0.89, -1.1]), (4.895, [-0.52, -0.86, -1.09]),
    (4.945, [-0.54, -0.88, -1.09]), (4.995, [-0.52, -0.85, -1.08]), (5.045, [-0.54, -0.87, -1.08]), (5.095, [-0.51, -0.84, -1.07]),
    (5.145, [-0.54, -0.87, -1.07]), (5.195, [-0.51, -0.84, -1.06]), (5.245, [-0.53, -0.86, -1.06]), (5.295, [-0.51, -0.83, -1.05]),
    (5.345, [-0.53, -0.85, -1.05]), (5.395, [-0.51, -0.83, -1.04]), (5.445, [-0.53, -0.85, -1.04]), (5.495, [-0.5, -0.82, -1.03]),
    (5.545, [-0.53, -0.84, -1.03]), (5.595, [-0.5, -0.82, -1.02]), (5.645, [-0.52, -0.84, -1.02]), (5.695, [-0.5, -0.81, -1.01]),
    (5.745, [-0.52, -0.83, -1.01]), (5.795, [-0.5, -0.81, -1.0]), (5.845, [-0.52, -0.83, -1.0]), (5.895, [-0.5, -0.8, -0.99]),
    (5.945, [-0.52, -0.82, -0.99]), (5.995, [-0.5, -0.8, -0.98]),
]

# not significant genes, low-expression fan (A, M pairs)
ns_pts = [
    0.01,7.55, 0.02,7.45, 0.03,7.6, 0.01,7.3, 0.04,6.9, 0.05,6.75, 0.02,6.3, 0.06,6.2, 0.03,5.95, 0.05,5.8,
    0.02,5.6, 0.04,5.45, 0.01,5.2, 0.06,5.05, 0.03,4.85, 0.02,4.6, 0.05,4.4, 0.01,4.25, 0.04,3.9, 0.03,3.65,
    0.06,3.4, 0.02,3.2, 0.05,2.95, 0.01,2.7, 0.04,2.5, 0.02,2.3, 0.06,2.1, 0.03,1.85, 0.01,1.6, 0.05,1.4,
    0.02,1.15, 0.04,0.95, 0.06,0.7, 0.01,0.45, 0.03,0.25, 0.05,-0.15, 0.02,-0.4, 0.04,-0.65, 0.01,-0.9, 0.06,-1.1,
    0.03,-1.35, 0.05,-1.6, 0.02,-1.9, 0.04,-2.15, 0.01,-2.4, 0.06,-2.6, 0.03,-2.85, 0.05,-3.1, 0.02,-3.35, 0.04,-3.8,
    0.01,-4.05, 0.06,-4.3, 0.03,-4.55, 0.05,-5.0, 0.02,-5.25, 0.04,-5.75, 0.01,-6.05, 0.03,-6.35, 0.05,-6.5, 0.02,-7.0,
    0.03,-7.4, 0.07,6.45, 0.08,5.2, 0.07,4.7, 0.08,3.05, 0.07,-2.0, 0.08,-3.6, 0.07,-5.4, 0.08,-6.6,
    0.09,7.05, 0.1,6.2, 0.12,5.7, 0.14,5.35, 0.17,5.0, 0.11,4.75, 0.15,4.4, 0.09,4.1, 0.18,3.95, 0.13,3.7,
    0.1,3.45, 0.16,3.2, 0.12,2.95, 0.19,2.75, 0.09,2.55, 0.14,2.35, 0.17,2.1, 0.11,1.9, 0.15,1.65, 0.1,1.45,
    0.18,1.25, 0.13,1.05, 0.16,0.8, 0.09,0.6, 0.12,0.35, 0.19,0.15, 0.14,-0.1, 0.1,-0.3, 0.17,-0.55, 0.12,-0.8,
    0.15,-1.0, 0.09,-1.25, 0.18,-1.45, 0.13,-1.7, 0.11,-2.0, 0.16,-2.2, 0.1,-2.5, 0.14,-2.75, 0.19,-2.95, 0.12,-3.2,
    0.17,-3.5, 0.09,-3.75, 0.15,-4.0, 0.11,-4.3, 0.13,-4.85, 0.1,-5.2, 0.14,-5.55, 0.12,-6.45, 0.16,-4.5, 0.18,-2.6,
    0.2,-1.1, 0.2,0.5, 0.2,2.4, 0.19,4.3, 0.07,-7.1, 0.09,-6.95,
    0.22,4.45, 0.27,4.2, 0.24,3.9, 0.31,3.75, 0.21,3.55, 0.29,3.4, 0.35,3.2, 0.25,3.05, 0.33,2.9, 0.23,2.6,
    0.38,2.55, 0.28,2.3, 0.36,2.15, 0.21,2.0, 0.31,1.85, 0.41,1.7, 0.26,1.55, 0.34,1.4, 0.43,1.3, 0.23,1.1,
    0.3,0.95, 0.39,0.85, 0.27,0.7, 0.44,0.6, 0.35,0.45, 0.22,0.3, 0.32,0.2, 0.41,0.1, 0.26,-0.05, 0.37,-0.2,
    0.3,-0.35, 0.43,-0.45, 0.23,-0.6, 0.34,-0.75, 0.4,-0.9, 0.27,-1.05, 0.36,-1.25, 0.22,-1.4, 0.31,-1.55, 0.42,-1.65,
    0.25,-1.85, 0.35,-2.0, 0.29,-2.2, 0.38,-2.3, 0.24,-2.55, 0.33,-2.7, 0.44,-2.85, 0.27,-3.0, 0.37,-3.2, 0.22,-3.35,
    0.31,-3.55, 0.41,-3.7, 0.26,-3.95, 0.35,-4.1, 0.29,-4.6, 0.39,-3.05, 0.43,2.3, 0.45,-1.95, 0.45,1.05,
    0.47,3.75, 0.55,3.6, 0.62,3.5, 0.5,3.25, 0.68,3.3, 0.58,3.05, 0.73,3.0, 0.46,2.85, 0.64,2.75, 0.52,2.45,
    0.7,2.55, 0.6,2.2, 0.48,2.05, 0.66,1.95, 0.74,1.8, 0.54,1.55, 0.63,1.5, 0.71,1.3, 0.49,1.2, 0.57,1.05,
    0.67,0.95, 0.73,0.75, 0.51,0.7, 0.6,0.55, 0.69,0.4, 0.46,0.35, 0.55,0.2, 0.64,0.1, 0.72,0.05, 0.5,-0.1,
    0.58,-0.2, 0.67,-0.3, 0.74,-0.45, 0.47,-0.5, 0.56,-0.6, 0.63,-0.75, 0.7,-0.85, 0.52,-0.95, 0.6,-1.1, 0.68,-1.2,
    0.46,-1.3, 0.55,-1.45, 0.73,-1.5, 0.62,-1.65, 0.5,-1.8, 0.69,-1.75, 0.57,-2.05, 0.65,-2.2, 0.48,-2.3, 0.72,-2.3,
    0.54,-2.55, 0.61,-2.65, 0.7,-2.6, 0.47,-2.9, 0.58,-3.1, 0.66,-3.25, 0.52,-3.45, 0.63,-3.6, 0.5,-3.9,
    0.77,3.05, 0.86,2.95, 0.95,2.75, 0.8,2.6, 1.03,2.55, 0.9,2.35, 0.78,2.2, 0.98,2.15, 1.07,1.95, 0.84,1.9,
    0.93,1.7, 0.76,1.6, 1.01,1.55, 0.88,1.4, 1.08,1.3, 0.81,1.2, 0.96,1.1, 0.85,0.95, 1.04,0.85, 0.77,0.8,
    0.91,0.7, 0.99,0.55, 1.09,0.5, 0.82,0.45, 0.87,0.3, 0.95,0.25, 1.02,0.15, 0.79,0.12, 1.06,0.05, 0.9,0.02,
    0.84,-0.08, 0.97,-0.12, 1.08,-0.2, 0.76,-0.25, 0.93,-0.3, 1.01,-0.38, 0.86,-0.45, 0.8,-0.55, 1.05,-0.6, 0.95,-0.7,
    0.88,-0.8, 0.78,-0.9, 1.0,-0.95, 0.92,-1.1, 1.07,-1.15, 0.83,-1.2, 0.97,-1.3, 0.76,-1.45, 0.89,-1.55, 1.03,-1.6,
    0.81,-1.75, 0.94,-1.85, 1.09,-1.9, 0.86,-2.05, 0.78,-2.3, 1.0,-2.2, 0.91,-2.45, 0.84,-2.7, 0.97,-2.9,
    1.12,2.3, 1.2,2.15, 1.3,2.05, 1.16,1.85, 1.38,1.95, 1.25,1.7, 1.44,1.65, 1.13,1.5, 1.33,1.45, 1.22,1.25,
    1.47,1.3, 1.18,1.05, 1.36,1.1, 1.28,0.95, 1.42,0.9, 1.14,-0.95, 1.31,-1.0, 1.24,-1.15, 1.45,-1.05, 1.19,-1.3,
    1.37,-1.35, 1.27,-1.5, 1.12,-1.6, 1.41,-1.6, 1.22,-1.8, 1.34,-1.85, 1.16,-2.0, 1.46,-1.9, 1.29,-2.15, 1.2,-2.4,
    1.52,1.5, 1.6,1.35, 1.7,1.45, 1.78,1.2, 1.56,1.1, 1.66,1.0, 1.85,1.05, 1.95,1.3, 2.05,1.1, 2.15,1.0,
    1.74,0.92, 1.9,0.9, 2.1,0.88, 1.55,-0.95, 1.63,-1.15, 1.72,-1.05, 1.82,-1.25, 1.93,-1.1, 2.02,-1.35, 2.12,-1.15,
    1.58,-1.4, 1.68,-1.5, 1.88,-1.45, 1.98,-0.92, 2.18,-0.9,
    0.46,0.92, 0.48,-0.31, 0.49,0.18, 0.5,1.21, 0.51,-0.77, 0.52,0.55, 0.53,-1.12, 0.54,0.03, 0.55,0.74, 0.56,-0.46,
    0.57,1.34, 0.58,-0.09, 0.59,0.41, 0.6,-0.93, 0.61,0.87, 0.62,-0.22, 0.63,1.08, 0.64,-0.63, 0.65,0.27, 0.66,-1.28,
    0.67,0.61, 0.68,-0.04, 0.69,1.19, 0.7,-0.51, 0.71,0.36, 0.72,-0.82, 0.73,0.96, 0.74,0.12, 0.75,-0.35, 0.76,1.27,
    0.77,-1.03, 0.78,0.48, 0.79,-0.17, 0.8,0.79, 0.81,-0.69, 0.82,0.22, 0.83,-1.2, 0.84,1.02, 0.85,-0.28, 0.86,0.58,
    0.87,-0.88, 0.88,0.08, 0.89,1.16, 0.9,-0.55, 0.91,0.39, 0.92,-1.09, 0.93,0.84, 0.94,-0.13, 0.95,0.64, 0.96,-0.74,
    0.97,1.31, 0.98,0.19, 0.99,-0.42, 1.0,0.93, 1.01,-0.97, 1.02,0.45, 1.03,-0.24, 1.04,1.13, 1.05,-0.6, 1.06,0.31,
    1.07,-1.25, 1.08,0.72, 1.09,-0.07, 0.47,-0.58, 0.5,0.35, 0.53,-0.2, 0.56,0.88, 0.59,-0.66, 0.62,0.14, 0.65,-0.4,
    0.68,0.98, 0.71,-0.15, 0.74,0.53, 0.77,-0.59, 0.8,0.05, 0.83,0.66, 0.86,-0.44, 0.89,0.27, 0.92,-0.7, 0.95,1.06,
    0.98,-0.33, 1.01,0.6, 1.04,-0.83, 1.07,0.2, 1.1,1.05, 1.13,-1.18, 1.16,1.2, 1.19,-1.08, 1.22,1.12, 1.25,-1.22,
    1.28,1.25, 1.31,-1.05, 1.34,1.15, 1.37,-1.2, 1.4,1.08, 1.43,-1.12, 1.46,1.22, 1.49,-1.0,
    0.46,1.62, 0.52,1.85, 0.58,1.48, 0.63,2.1, 0.69,1.66, 0.75,2.05, 0.81,1.55, 0.87,1.95, 0.93,1.38, 0.99,1.72,
    1.05,1.5, 0.49,-1.62, 0.55,-1.9, 0.61,-1.45, 0.67,-2.05, 0.73,-1.7, 0.79,-1.98, 0.85,-1.42, 0.91,-1.78, 0.97,-1.55,
    1.03,-1.85,
]

# not significant genes, dense band around M = 0: (A, [M, ...])
ns_band = [
    (1.10, [-0.72, -0.31, 0.08, 0.44, 0.83]), (1.13, [-0.55, -0.12, 0.27, 0.61, -0.88]),
    (1.15, [-0.81, -0.4, -0.03, 0.35, 0.7]), (1.18, [-0.62, -0.2, 0.17, 0.52, 0.9]),
    (1.20, [-0.47, -0.06, 0.31, 0.66, -0.78]), (1.23, [-0.86, -0.35, 0.02, 0.4, 0.76]),
    (1.25, [-0.58, -0.17, 0.22, 0.57, 0.85]), (1.28, [-0.7, -0.27, 0.11, 0.47, -0.9]),
    (1.30, [-0.5, -0.09, 0.29, 0.69, 0.15]), (1.33, [-0.83, -0.38, -0.01, 0.37, 0.8]),
    (1.35, [-0.61, -0.22, 0.14, 0.54, -0.45]), (1.38, [-0.75, -0.3, 0.06, 0.43, 0.72]),
    (1.40, [-0.53, -0.13, 0.25, 0.63, 0.88]), (1.43, [-0.88, -0.42, -0.04, 0.33, 0.68]),
    (1.45, [-0.64, -0.19, 0.19, 0.5, -0.02]), (1.48, [-0.77, -0.33, 0.09, 0.46, 0.82]),
    (1.50, [-0.49, -0.1, 0.28, 0.6, -0.7]), (1.53, [-0.85, -0.36, 0.0, 0.38, 0.74]),
    (1.55, [-0.59, -0.16, 0.21, 0.56, 0.86]), (1.58, [-0.71, -0.28, 0.12, 0.45, -0.87]),
    (1.60, [-0.52, -0.07, 0.3, 0.65, 0.18]), (1.63, [-0.8, -0.39, -0.02, 0.36, 0.78]),
    (1.65, [-0.63, -0.21, 0.15, 0.53, -0.44]), (1.68, [-0.74, -0.29, 0.07, 0.42, 0.71]),
    (1.70, [-0.54, -0.14, 0.24, 0.62, 0.87]), (1.73, [-0.87, -0.41, -0.05, 0.32, 0.67]),
    (1.75, [-0.65, -0.18, 0.2, 0.51, 0.01]), (1.78, [-0.76, -0.32, 0.1, 0.48, 0.81]),
    (1.80, [-0.48, -0.11, 0.26, 0.59, -0.68]), (1.83, [-0.84, -0.37, 0.03, 0.39, 0.75]),
    (1.85, [-0.6, -0.15, 0.23, 0.55, 0.84]), (1.88, [-0.69, -0.26, 0.13, 0.46, -0.85]),
    (1.90, [-0.51, -0.08, 0.32, 0.64, 0.19]), (1.93, [-0.79, -0.4, -0.01, 0.34, 0.77]),
    (1.95, [-0.62, -0.23, 0.16, 0.52, -0.43]), (1.98, [-0.73, -0.3, 0.05, 0.41, 0.7]),
    (2.00, [-0.61, -0.44, -0.09, 0.02, 0.37, 0.58]), (2.03, [-0.52, -0.19, -0.13, 0.21, 0.29, 0.66]),
    (2.05, [-0.68, -0.31, 0.05, 0.11, 0.46, 0.52]), (2.08, [-0.4, -0.35, -0.03, 0.26, 0.41, 0.63]),
    (2.10, [-0.57, -0.16, -0.08, 0.07, 0.33, 0.69]), (2.13, [-0.65, -0.48, -0.2, 0.15, 0.19, 0.5]),
    (2.15, [-0.45, -0.27, 0.01, 0.1, 0.39, 0.6]), (2.18, [-0.59, -0.12, -0.05, 0.3, 0.35, 0.67]),
    (2.20, [-0.5, -0.42, -0.22, 0.17, 0.44, 0.53]), (2.23, [-0.66, -0.25, 0.08, 0.2, 0.24, 0.59]),
    (2.25, [-0.43, -0.32, -0.1, 0.0, 0.4, 0.48]), (2.28, [-0.55, -0.17, 0.04, 0.14, 0.51, 0.62]),
    (2.30, [-0.62, -0.38, -0.15, 0.27, 0.31, 0.55]), (2.33, [-0.47, -0.29, -0.01, 0.09, 0.36, 0.68]),
    (2.35, [-0.58, -0.11, -0.06, 0.22, 0.43, 0.5]), (2.38, [-0.67, -0.45, -0.18, 0.12, 0.16, 0.57]),
    (2.40, [-0.41, -0.23, 0.03, 0.19, 0.34, 0.64]), (2.43, [-0.54, -0.36, -0.12, -0.04, 0.28, 0.46]),
    (2.45, [-0.63, -0.2, 0.06, 0.15, 0.47, 0.54]), (2.48, [-0.48, -0.4, -0.14, 0.25, 0.32, 0.61]),
    (2.50, [-0.6, -0.26, -0.02, 0.08, 0.38, 0.66]), (2.53, [-0.44, -0.13, -0.07, 0.18, 0.42, 0.49]),
    (2.55, [-0.56, -0.47, -0.21, 0.11, 0.23, 0.58]), (2.58, [-0.64, -0.3, 0.02, 0.13, 0.45, 0.63]),
    (2.60, [-0.42, -0.37, -0.11, 0.28, 0.35, 0.52]), (2.63, [-0.53, -0.18, -0.05, 0.06, 0.3, 0.67]),
    (2.65, [-0.61, -0.43, -0.16, 0.2, 0.4, 0.47]), (2.68, [-0.46, -0.24, 0.04, 0.16, 0.26, 0.6]),
    (2.70, [-0.58, -0.33, -0.09, 0.01, 0.44, 0.55]), (2.73, [-0.65, -0.14, 0.07, 0.23, 0.37, 0.62]),
    (2.75, [-0.43, -0.39, -0.19, 0.12, 0.29, 0.5]), (2.78, [-0.55, -0.28, -0.03, 0.09, 0.48, 0.59]),
    (2.80, [-0.62, -0.21, -0.12, 0.24, 0.33, 0.64]), (2.83, [-0.47, -0.44, -0.15, 0.05, 0.41, 0.53]),
    (2.85, [-0.57, -0.3, 0.0, 0.17, 0.21, 0.58]), (2.88, [-0.4, -0.17, -0.07, 0.27, 0.39, 0.65]),
    (2.90, [-0.63, -0.35, -0.2, 0.1, 0.34, 0.48]), (2.93, [-0.51, -0.26, 0.05, 0.14, 0.45, 0.6]),
    (2.95, [-0.59, -0.41, -0.1, 0.21, 0.25, 0.54]), (2.98, [-0.45, -0.15, -0.02, 0.07, 0.36, 0.63]),
    (3.00, [-0.49, -0.33, -0.02, 0.07, 0.31, 0.5]), (3.03, [-0.41, -0.2, -0.12, 0.19, 0.24, 0.46]),
    (3.05, [-0.52, -0.28, 0.03, 0.12, 0.38, 0.43]), (3.08, [-0.37, -0.3, -0.06, 0.22, 0.35, 0.52]),
    (3.10, [-0.45, -0.16, -0.09, 0.04, 0.27, 0.49]), (3.13, [-0.5, -0.39, -0.14, 0.1, 0.16, 0.41]),
    (3.15, [-0.34, -0.24, 0.01, 0.09, 0.33, 0.47]), (3.18, [-0.47, -0.11, -0.04, 0.26, 0.29, 0.53]),
    (3.20, [-0.42, -0.36, -0.18, 0.14, 0.37, 0.44]), (3.23, [-0.53, -0.22, 0.06, 0.18, 0.21, 0.48]),
    (3.25, [-0.39, -0.27, -0.08, 0.0, 0.32, 0.4]), (3.28, [-0.46, -0.14, 0.02, 0.13, 0.42, 0.51]),
    (3.30, [-0.51, -0.31, -0.19, 0.08, 0.25, 0.45]), (3.33, [-0.36, -0.08, 0.05, 0.2, 0.36, 0.49]),
    (3.35, [-0.48, -0.4, -0.1, 0.15, 0.18, 0.53]), (3.38, [-0.43, -0.25, -0.01, 0.11, 0.39, 0.42]),
    (3.40, [-0.52, -0.17, -0.13, 0.23, 0.3, 0.47]), (3.43, [-0.35, -0.29, 0.03, 0.06, 0.34, 0.5]),
    (3.45, [-0.44, -0.21, -0.05, 0.17, 0.28, 0.52]), (3.48, [-0.5, -0.37, -0.15, 0.01, 0.4, 0.46]),
    (3.50, [-0.4, -0.12, 0.08, 0.19, 0.23, 0.44]), (3.53, [-0.53, -0.26, -0.07, 0.12, 0.35, 0.48]),
    (3.55, [-0.38, -0.33, -0.17, 0.09, 0.31, 0.51]), (3.58, [-0.47, -0.19, 0.0, 0.24, 0.27, 0.43]),
    (3.60, [-0.51, -0.1, -0.03, 0.14, 0.38, 0.5]), (3.63, [-0.42, -0.35, -0.2, 0.05, 0.21, 0.45]),
    (3.65, [-0.34, -0.23, 0.04, 0.16, 0.33, 0.53]), (3.68, [-0.49, -0.15, -0.11, 0.2, 0.41, 0.47]),
    (3.70, [-0.45, -0.38, -0.06, 0.1, 0.26, 0.42]), (3.73, [-0.52, -0.28, 0.02, 0.07, 0.37, 0.49]),
    (3.75, [-0.37, -0.18, -0.14, 0.22, 0.3, 0.52]), (3.78, [-0.48, -0.32, -0.02, 0.13, 0.19, 0.44]),
    (3.80, [-0.41, -0.09, 0.06, 0.17, 0.39, 0.5]), (3.83, [-0.53, -0.24, -0.16, 0.03, 0.34, 0.46]),
    (3.85, [-0.36, -0.3, -0.04, 0.25, 0.28, 0.51]), (3.88, [-0.46, -0.13, 0.01, 0.11, 0.36, 0.43]),
    (3.90, [-0.5, -0.36, -0.19, 0.08, 0.22, 0.48]), (3.93, [-0.39, -0.21, 0.05, 0.18, 0.4, 0.53]),
    (3.95, [-0.44, -0.27, -0.08, 0.0, 0.31, 0.45]), (3.98, [-0.51, -0.14, -0.12, 0.21, 0.24, 0.49]),
    (4.00, [-0.35, -0.34, 0.03, 0.14, 0.37, 0.42]), (4.03, [-0.48, -0.2, -0.05, 0.09, 0.29, 0.52]),
    (4.05, [-0.42, -0.39, -0.17, 0.19, 0.33, 0.47]), (4.08, [-0.53, -0.11, 0.0, 0.06, 0.41, 0.5]),
    (4.10, [-0.38, -0.25, -0.1, 0.23, 0.26, 0.44]), (4.13, [-0.47, -0.31, 0.04, 0.15, 0.35, 0.51]),
    (4.15, [-0.5, -0.16, -0.13, 0.02, 0.2, 0.46]), (4.18, [-0.4, -0.29, -0.01, 0.12, 0.38, 0.53]),
    (4.20, [-0.45, -0.22, -0.18, 0.25, 0.32, 0.43]), (4.23, [-0.52, -0.37, 0.07, 0.1, 0.28, 0.49]),
    (4.25, [-0.36, -0.12, -0.06, 0.16, 0.4, 0.48]), (4.28, [-0.49, -0.26, -0.15, 0.04, 0.23, 0.52]),
    (4.30, [-0.43, -0.33, 0.01, 0.2, 0.36, 0.45]), (4.33, [-0.51, -0.18, -0.09, 0.08, 0.3, 0.5]),
    (4.35, [-0.37, -0.28, -0.2, 0.13, 0.42, 0.47]), (4.38, [-0.46, -0.1, 0.05, 0.18, 0.25, 0.53]),
    (4.40, [-0.53, -0.35, -0.03, 0.11, 0.34, 0.44]), (4.43, [-0.41, -0.23, -0.14, 0.22, 0.39, 0.49]),
    (4.45, [-0.48, -0.3, 0.02, 0.07, 0.27, 0.51]), (4.48, [-0.34, -0.15, -0.07, 0.16, 0.33, 0.46]),
    (4.50, [-0.5, -0.38, -0.18, 0.03, 0.21, 0.42]), (4.53, [-0.44, -0.2, 0.06, 0.14, 0.37, 0.52]),
    (4.55, [-0.39, -0.27, -0.11, 0.24, 0.29, 0.48]), (4.58, [-0.52, -0.13, -0.02, 0.1, 0.4, 0.45]),
    (4.60, [-0.47, -0.32, -0.16, 0.19, 0.26, 0.53]), (4.63, [-0.36, -0.24, 0.04, 0.09, 0.35, 0.43]),
    (4.65, [-0.49, -0.17, -0.08, 0.21, 0.31, 0.5]), (4.68, [-0.42, -0.36, -0.13, 0.0, 0.38, 0.47]),
    (4.70, [-0.53, -0.21, 0.03, 0.16, 0.23, 0.51]), (4.73, [-0.38, -0.29, -0.05, 0.12, 0.41, 0.44]),
    (4.75, [-0.45, -0.11, -0.19, 0.25, 0.34, 0.49]), (4.78, [-0.51, -0.34, 0.01, 0.08, 0.28, 0.52]),
    (4.80, [-0.4, -0.26, -0.1, 0.18, 0.36, 0.46]), (4.83, [-0.47, -0.14, 0.05, 0.13, 0.2, 0.5]),
    (4.85, [-0.35, -0.31, -0.15, 0.03, 0.39, 0.43]), (4.88, [-0.5, -0.19, -0.04, 0.23, 0.32, 0.53]),
    (4.90, [-0.43, -0.37, -0.17, 0.1, 0.27, 0.48]), (4.93, [-0.52, -0.24, 0.02, 0.15, 0.37, 0.45]),
    (4.95, [-0.37, -0.12, -0.09, 0.2, 0.3, 0.51]), (4.98, [-0.46, -0.28, -0.01, 0.06, 0.42, 0.47]),
    (5.00, [-0.49, -0.35, -0.2, 0.17, 0.24, 0.52]), (5.03, [-0.41, -0.16, 0.04, 0.11, 0.35, 0.44]),
    (5.05, [-0.53, -0.3, -0.12, 0.22, 0.29, 0.49]), (5.08, [-0.36, -0.22, 0.0, 0.08, 0.38, 0.46]),
    (5.10, [-0.48, -0.1, -0.06, 0.14, 0.33, 0.53]), (5.13, [-0.44, -0.38, -0.16, 0.05, 0.21, 0.42]),
    (5.15, [-0.51, -0.25, 0.07, 0.19, 0.4, 0.5]), (5.18, [-0.39, -0.32, -0.08, 0.12, 0.26, 0.47]),
    (5.20, [-0.47, -0.14, -0.18, 0.24, 0.36, 0.51]), (5.23, [-0.34, -0.27, 0.02, 0.09, 0.31, 0.45]),
    (5.25, [-0.5, -0.2, -0.04, 0.16, 0.39, 0.49]), (5.28, [-0.42, -0.36, -0.13, 0.01, 0.28, 0.53]),
    (5.30, [-0.52, -0.23, 0.05, 0.2, 0.23, 0.43]), (5.33, [-0.38, -0.11, -0.1, 0.13, 0.37, 0.48]),
    (5.35, [-0.46, -0.33, -0.19, 0.07, 0.34, 0.52]), (5.38, [-0.49, -0.26, 0.03, 0.17, 0.25, 0.46]),
    (5.40, [-0.4, -0.15, -0.07, 0.23, 0.41, 0.5]), (5.43, [-0.53, -0.39, -0.02, 0.1, 0.3, 0.44]),
    (5.45, [-0.37, -0.21, -0.15, 0.15, 0.35, 0.51]), (5.48, [-0.45, -0.29, 0.06, 0.04, 0.27, 0.47]),
    (5.50, [-0.51, -0.13, -0.09, 0.21, 0.38, 0.49]), (5.53, [-0.43, -0.34, -0.17, 0.11, 0.22, 0.53]),
    (5.55, [-0.35, -0.24, 0.01, 0.18, 0.33, 0.45]), (5.58, [-0.48, -0.18, -0.05, 0.08, 0.4, 0.5]),
    (5.60, [-0.52, -0.31, -0.12, 0.25, 0.29, 0.43]), (5.63, [-0.39, -0.1, 0.04, 0.14, 0.36, 0.52]),
    (5.65, [-0.46, -0.37, -0.2, 0.02, 0.24, 0.47]), (5.68, [-0.5, -0.25, -0.03, 0.19, 0.31, 0.48]),
    (5.70, [-0.41, -0.16, 0.07, 0.12, 0.39, 0.44]), (5.73, [-0.53, -0.3, -0.14, 0.22, 0.34, 0.51]),
    (5.75, [-0.36, -0.22, -0.01, 0.05, 0.26, 0.49]), (5.78, [-0.47, -0.12, -0.18, 0.16, 0.42, 0.46]),
    (5.80, [-0.44, -0.35, 0.03, 0.09, 0.3, 0.53]), (5.83, [-0.51, -0.27, -0.08, 0.2, 0.37, 0.45]),
    (5.85, [-0.38, -0.19, 0.05, 0.13, 0.23, 0.5]), (5.88, [-0.49, -0.33, -0.16, 0.01, 0.35, 0.47]),
    (5.90, [-0.42, -0.14, -0.04, 0.24, 0.28, 0.52]), (5.93, [-0.53, -0.38, 0.02, 0.1, 0.4, 0.44]),
    (5.95, [-0.35, -0.21, -0.11, 0.17, 0.32, 0.49]), (5.98, [-0.46, -0.28, 0.06, 0.07, 0.25, 0.51]),
    (6.00, [-0.5, -0.17, -0.13, 0.21, 0.38, 0.46]),
]

# second, interleaved layer of the dense not-significant band
ns_band2 = [
    (1.515, [-0.58, -0.2, 0.18, 0.55]), (1.54, [-0.4, -0.02, 0.36, 0.74]), (1.565, [-0.69, -0.29, 0.1, 0.47]),
    (1.59, [-0.5, -0.13, 0.26, 0.63]), (1.615, [-0.76, -0.34, 0.04, 0.41]), (1.64, [-0.45, -0.08, 0.3, 0.69]),
    (1.665, [-0.6, -0.23, 0.19, 0.57]), (1.69, [-0.37, 0.0, 0.38, 0.77]), (1.715, [-0.66, -0.27, 0.12, 0.5]),
    (1.74, [-0.53, -0.15, 0.23, 0.61]), (1.765, [-0.72, -0.32, 0.06, 0.44]), (1.79, [-0.43, -0.05, 0.33, 0.7]),
    (1.815, [-0.62, -0.22, 0.16, 0.54]), (1.84, [-0.39, -0.01, 0.4, 0.75]), (1.865, [-0.67, -0.3, 0.09, 0.48]),
    (1.89, [-0.5, -0.12, 0.27, 0.64]), (1.915, [-0.74, -0.35, 0.03, 0.42]), (1.94, [-0.46, -0.07, 0.31, 0.68]),
    (1.965, [-0.59, -0.24, 0.17, 0.56]), (1.99, [-0.36, 0.02, 0.37, 0.72]),
    (2.015, [-0.58, -0.07, 0.14, 0.49]), (2.04, [-0.37, -0.26, 0.32, 0.61]), (2.065, [-0.49, 0.04, 0.23, 0.4]),
    (2.09, [-0.63, -0.15, -0.02, 0.55]), (2.115, [-0.29, -0.21, 0.18, 0.47]), (2.14, [-0.54, -0.1, 0.36, 0.43]),
    (2.165, [-0.44, 0.08, 0.12, 0.64]), (2.19, [-0.6, -0.33, 0.27, 0.38]), (2.215, [-0.35, -0.05, 0.02, 0.52]),
    (2.24, [-0.51, -0.23, 0.2, 0.59]), (2.265, [-0.62, -0.01, 0.31, 0.42]), (2.29, [-0.4, -0.17, 0.09, 0.5]),
    (2.315, [-0.56, -0.3, 0.15, 0.65]), (2.34, [-0.32, 0.03, 0.26, 0.45]), (2.365, [-0.47, -0.12, 0.38, 0.57]),
    (2.39, [-0.61, -0.25, 0.06, 0.34]), (2.415, [-0.38, -0.08, 0.22, 0.6]), (2.44, [-0.53, 0.0, 0.13, 0.48]),
    (2.465, [-0.28, -0.19, 0.33, 0.41]), (2.49, [-0.59, -0.04, 0.19, 0.63]), (2.515, [-0.45, -0.29, 0.1, 0.53]),
    (2.54, [-0.34, 0.05, 0.29, 0.39]), (2.565, [-0.6, -0.14, 0.16, 0.58]), (2.59, [-0.42, -0.22, 0.35, 0.46]),
    (2.615, [-0.55, -0.02, 0.07, 0.51]), (2.64, [-0.31, -0.18, 0.24, 0.62]), (2.665, [-0.5, 0.02, 0.3, 0.4]),
    (2.69, [-0.64, -0.11, 0.11, 0.55]), (2.715, [-0.36, -0.27, 0.21, 0.44]), (2.74, [-0.52, -0.06, 0.37, 0.6]),
    (2.765, [-0.43, 0.06, 0.14, 0.49]), (2.79, [-0.58, -0.2, 0.25, 0.36]), (2.815, [-0.3, -0.09, 0.04, 0.56]),
    (2.84, [-0.48, -0.24, 0.32, 0.61]), (2.865, [-0.62, 0.01, 0.17, 0.43]), (2.89, [-0.39, -0.15, 0.08, 0.52]),
    (2.915, [-0.54, -0.3, 0.28, 0.64]), (2.94, [-0.33, -0.03, 0.2, 0.42]), (2.965, [-0.46, -0.13, 0.34, 0.55]),
    (2.99, [-0.59, -0.26, 0.05, 0.38]),
    (3.015, [-0.4, -0.09, 0.05, 0.36]), (3.04, [-0.27, -0.18, 0.2, 0.44]), (3.065, [-0.46, -0.01, 0.13, 0.3]),
    (3.09, [-0.33, -0.25, 0.1, 0.39]), (3.115, [-0.21, 0.07, 0.17, 0.46]), (3.14, [-0.44, -0.13, 0.24, 0.34]),
    (3.165, [-0.36, 0.0, 0.08, 0.41]), (3.19, [-0.29, -0.2, 0.15, 0.27]), (3.215, [-0.48, -0.05, 0.28, 0.45]),
    (3.24, [-0.24, -0.15, 0.03, 0.37]), (3.265, [-0.39, 0.04, 0.21, 0.47]), (3.29, [-0.45, -0.28, 0.11, 0.3]),
    (3.315, [-0.31, -0.07, 0.18, 0.43]), (3.34, [-0.2, -0.11, 0.26, 0.35]), (3.365, [-0.42, 0.02, 0.06, 0.4]),
    (3.39, [-0.35, -0.23, 0.14, 0.48]), (3.415, [-0.47, -0.03, 0.23, 0.32]), (3.44, [-0.26, -0.16, 0.09, 0.42]),
    (3.465, [-0.38, 0.05, 0.19, 0.29]), (3.49, [-0.43, -0.19, 0.27, 0.46]), (3.515, [-0.3, -0.1, 0.01, 0.38]),
    (3.54, [-0.22, 0.06, 0.16, 0.45]), (3.565, [-0.45, -0.14, 0.12, 0.33]), (3.59, [-0.34, -0.26, 0.25, 0.41]),
    (3.615, [-0.41, -0.02, 0.07, 0.47]), (3.64, [-0.25, -0.17, 0.22, 0.31]), (3.665, [-0.48, 0.03, 0.15, 0.39]),
    (3.69, [-0.37, -0.12, 0.29, 0.44]), (3.715, [-0.28, -0.22, 0.04, 0.36]), (3.74, [-0.44, -0.06, 0.18, 0.48]),
    (3.765, [-0.32, 0.07, 0.1, 0.34]), (3.79, [-0.21, -0.15, 0.24, 0.43]), (3.815, [-0.46, -0.27, 0.13, 0.3]),
    (3.84, [-0.36, -0.04, 0.2, 0.46]), (3.865, [-0.42, 0.01, 0.27, 0.37]), (3.89, [-0.27, -0.2, 0.08, 0.4]),
    (3.915, [-0.39, -0.09, 0.16, 0.47]), (3.94, [-0.47, -0.24, 0.02, 0.33]), (3.965, [-0.23, 0.04, 0.22, 0.42]),
    (3.99, [-0.35, -0.13, 0.11, 0.29]),
    (4.015, [-0.43, -0.01, 0.26, 0.45]), (4.04, [-0.3, -0.21, 0.06, 0.38]), (4.065, [-0.45, -0.08, 0.19, 0.35]),
    (4.09, [-0.24, 0.06, 0.14, 0.47]), (4.115, [-0.38, -0.16, 0.28, 0.41]), (4.14, [-0.48, -0.26, 0.09, 0.31]),
    (4.165, [-0.33, -0.03, 0.21, 0.44]), (4.19, [-0.2, -0.12, 0.03, 0.37]), (4.215, [-0.41, 0.02, 0.17, 0.46]),
    (4.24, [-0.36, -0.23, 0.25, 0.32]), (4.265, [-0.46, -0.06, 0.12, 0.43]), (4.29, [-0.26, -0.18, 0.07, 0.39]),
    (4.315, [-0.4, 0.05, 0.23, 0.48]), (4.34, [-0.31, -0.1, 0.15, 0.3]), (4.365, [-0.44, -0.28, 0.27, 0.42]),
    (4.39, [-0.22, -0.02, 0.1, 0.35]), (4.415, [-0.37, -0.14, 0.2, 0.45]), (4.44, [-0.47, 0.03, 0.05, 0.4]),
    (4.465, [-0.29, -0.19, 0.24, 0.33]), (4.49, [-0.42, -0.07, 0.13, 0.47]), (4.515, [-0.34, 0.07, 0.18, 0.36]),
    (4.54, [-0.25, -0.22, 0.01, 0.44]), (4.565, [-0.45, -0.11, 0.29, 0.38]), (4.59, [-0.38, 0.0, 0.16, 0.31]),
    (4.615, [-0.21, -0.16, 0.08, 0.46]), (4.64, [-0.43, -0.25, 0.22, 0.41]), (4.665, [-0.32, -0.04, 0.14, 0.34]),
    (4.69, [-0.48, 0.04, 0.26, 0.43]), (4.715, [-0.27, -0.13, 0.04, 0.37]), (4.74, [-0.39, -0.21, 0.19, 0.47]),
    (4.765, [-0.44, -0.01, 0.11, 0.32]), (4.79, [-0.23, -0.09, 0.28, 0.4]), (4.815, [-0.35, 0.06, 0.06, 0.45]),
    (4.84, [-0.46, -0.27, 0.17, 0.36]), (4.865, [-0.3, -0.05, 0.23, 0.48]), (4.89, [-0.41, -0.17, 0.02, 0.3]),
    (4.915, [-0.24, 0.02, 0.15, 0.42]), (4.94, [-0.37, -0.24, 0.25, 0.35]), (4.965, [-0.47, -0.08, 0.09, 0.44]),
    (4.99, [-0.28, -0.14, 0.21, 0.39]),
    (5.015, [-0.42, 0.05, 0.13, 0.47]), (5.04, [-0.33, -0.2, 0.27, 0.31]), (5.065, [-0.45, -0.03, 0.07, 0.41]),
    (5.09, [-0.22, -0.11, 0.18, 0.46]), (5.115, [-0.38, -0.26, 0.24, 0.34]), (5.14, [-0.48, 0.01, 0.12, 0.43]),
    (5.165, [-0.29, -0.15, 0.03, 0.37]), (5.19, [-0.4, -0.06, 0.2, 0.45]), (5.215, [-0.35, 0.07, 0.29, 0.4]),
    (5.24, [-0.2, -0.23, 0.09, 0.32]), (5.265, [-0.44, -0.1, 0.16, 0.48]), (5.29, [-0.31, -0.02, 0.22, 0.36]),
    (5.315, [-0.46, -0.18, 0.05, 0.42]), (5.34, [-0.26, 0.03, 0.26, 0.44]), (5.365, [-0.39, -0.28, 0.14, 0.3]),
    (5.39, [-0.43, -0.07, 0.1, 0.47]), (5.415, [-0.24, -0.13, 0.19, 0.35]), (5.44, [-0.36, 0.04, 0.28, 0.41]),
    (5.465, [-0.47, -0.21, 0.02, 0.38]), (5.49, [-0.3, -0.04, 0.17, 0.45]), (5.515, [-0.41, -0.16, 0.25, 0.33]),
    (5.54, [-0.21, 0.06, 0.11, 0.43]), (5.565, [-0.45, -0.25, 0.21, 0.46]), (5.59, [-0.34, -0.09, 0.06, 0.31]),
    (5.615, [-0.38, 0.0, 0.15, 0.4]), (5.64, [-0.27, -0.19, 0.27, 0.48]), (5.665, [-0.48, -0.05, 0.08, 0.36]),
    (5.69, [-0.32, -0.12, 0.23, 0.42]), (5.715, [-0.42, 0.05, 0.13, 0.34]), (5.74, [-0.23, -0.24, 0.04, 0.45]),
    (5.765, [-0.37, -0.08, 0.2, 0.39]), (5.79, [-0.46, 0.02, 0.26, 0.47]), (5.815, [-0.28, -0.17, 0.1, 0.32]),
    (5.84, [-0.4, -0.03, 0.18, 0.44]), (5.865, [-0.33, -0.27, 0.24, 0.37]), (5.89, [-0.44, 0.07, 0.07, 0.41]),
    (5.915, [-0.25, -0.11, 0.16, 0.46]), (5.94, [-0.39, -0.2, 0.29, 0.35]), (5.965, [-0.47, -0.01, 0.12, 0.43]),
    (5.99, [-0.3, -0.14, 0.22, 0.38]),
]

# local trend (loess-like) line
trend_a = [0.0, 0.1, 0.25, 0.5, 0.75, 1.0, 1.5, 2.0, 2.5, 3.0, 3.5, 4.0, 4.5, 5.0, 5.5, 6.0]
trend_m = [0.07, 0.06, 0.03, -0.01, -0.04, -0.05, -0.05, -0.05, -0.05, -0.04, -0.03, -0.01, 0.01, 0.02, 0.03, 0.04]


def unpack(pairs, *bands):
    a = list(pairs[0::2])
    m = list(pairs[1::2])
    for band in bands:
        for col_a, col_m in band:
            a += [col_a] * len(col_m)
            m += col_m
    return np.array(a), np.array(m)


ns_a, ns_m = unpack(ns_pts, ns_band, ns_band2)
up_a, up_m = unpack(up_pts, up_band, up_band2)
down_a, down_m = unpack(down_pts, down_band, down_band2)

BG = '#1b1b17'
FG = '#ecebe3'
TICK = '#b8b7af'
C_NS = '#5c5b57'
C_UP = '#009e73'
C_DOWN = '#af2a30'
C_TREND = '#29b8ce'

# bell shaped markers: circle + triangle
tri = Path([(-1.15, -0.9), (1.15, -0.9), (0.0, 1.6), (-1.15, -0.9)],
           [Path.MOVETO, Path.LINETO, Path.LINETO, Path.CLOSEPOLY])
bell_up = Path.make_compound_path(Path.unit_circle(), tri)
bell_down = Path(bell_up.vertices * np.array([1.0, -1.0]), bell_up.codes)

fig = plt.figure(figsize=(16, 9), dpi=200, facecolor=BG)
ax = fig.add_axes([0.06, 0.0806, 0.8775, 0.8433], facecolor=BG)

ax.scatter(ns_a, ns_m, s=14, c='#bdbdb8', alpha=0.45, linewidths=0, zorder=2, clip_on=False)
ax.scatter(up_a, up_m, s=185, marker=bell_up, c=C_UP, linewidths=0, zorder=3, clip_on=False)
ax.scatter(down_a, down_m, s=185, marker=bell_down, c=C_DOWN, linewidths=0, zorder=3, clip_on=False)

ax.plot(trend_a, trend_m, color=C_TREND, lw=1.2, zorder=5)
ax.axhline(0, color='#f2f1ea', lw=1.4, zorder=6)
for y in (1, -1):
    ax.axhline(y, color='#c9c8c0', lw=1.0, dashes=(4, 2.9), zorder=6)
ax.text(3.0, 1.06, 'log₂FC = 1', ha='center', va='bottom', fontsize=9, color='#b9b8b0', zorder=7)
ax.text(3.0, -0.94, 'log₂FC = −1', ha='center', va='bottom', fontsize=9, color='#b9b8b0', zorder=7)

ax.set_xlim(0, 6)
ax.set_ylim(-8, 8)
ax.set_xticks(range(0, 7))
ax.set_yticks(range(-8, 9, 2))
ax.yaxis.grid(True, color='#3a3a36', lw=0.6)
ax.set_axisbelow(True)
for side in ('top', 'right'):
    ax.spines[side].set_visible(False)
for side in ('left', 'bottom'):
    ax.spines[side].set_color('#e6e5dd')
    ax.spines[side].set_linewidth(0.8)
ax.tick_params(axis='both', colors='#e6e5dd', labelcolor=TICK, labelsize=9, length=3.8, width=0.8)
ax.tick_params(axis='y', pad=2)
ax.tick_params(axis='x', pad=3)

fig.text(0.5, 0.966, title, ha='center', va='center', fontsize=16, color=FG)
fig.text(0.499, 0.0433, 'Mean Expression (log₂ A)', ha='center', va='center', fontsize=11, color=FG)
fig.text(0.039, 0.502, 'Log₂ Fold Change (M)', ha='center', va='center', rotation=90, fontsize=11, color=FG)

handles = [Line2D([], [], marker='s', linestyle='none', markersize=10, markeredgewidth=0, markerfacecolor=c)
           for c in (C_NS, C_UP, C_DOWN, C_TREND)]
fig.legend(handles, legend_labels, loc='center', bbox_to_anchor=(0.497, 0.0228), ncol=4, frameon=False,
           fontsize=11.3, handlelength=0.9, handletextpad=0.4, columnspacing=0.75, labelcolor=FG)

fig.savefig('out.png', dpi=200, facecolor=BG)
